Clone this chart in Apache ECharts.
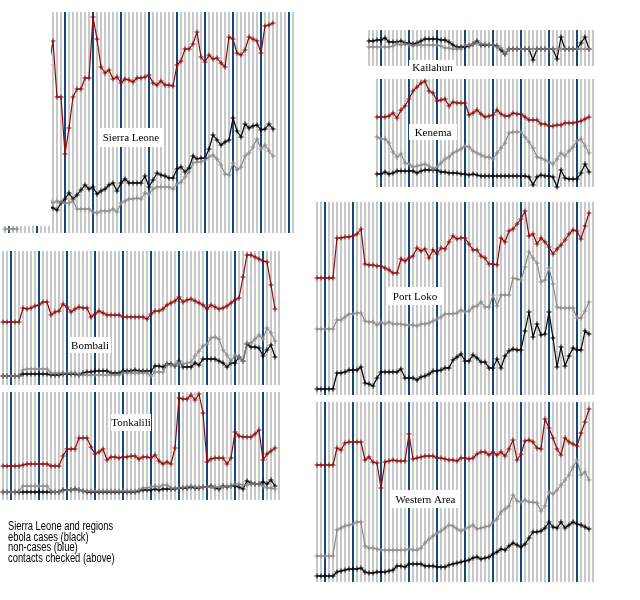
<!DOCTYPE html>
<html>
<head>
<meta charset="utf-8">
<script src="https://cdn.jsdelivr.net/npm/echarts@6/dist/echarts.min.js"></script>
<style>
  html, body { margin: 0; padding: 0; background: #fff; }
  #chart { width: 640px; height: 600px; }
</style>
</head>
<body>
<div id="chart"></div>
<script>
"use strict";

// one value per day; day 0 is the first column of the regional panels.

// --- Sierra Leone (from day 12, plus the early strip days 1-4) ---
const slStart = 12;
const slContacts = [168, 192, 136, 136, 79, 105, 136, 144, 144, 155, 155, 216, 194, 166, 160, 163, 154, 156, 150, 154, 153, 151, 155, 155, 156, 158, 150, 148, 152, 148, 148, 147, 168, 172, 184, 184, 189, 201, 176, 171, 178, 174, 175, 170, 166, 196, 194, 180, 178, 183, 196, 194, 192, 180, 207, 208, 210];
const slNonCases = [34, 30, 32, 31, 30, 30, 32, 24, 24, 24, 24, 21, 20, 22, 22, 22, 24, 21, 30, 32, 34, 34, 35, 34, 40, 39, 44, 46, 46, 46, 46, 44, 49, 51, 56, 61, 70, 71, 71, 73, 76, 78, 74, 68, 59, 58, 70, 63, 66, 77, 80, 86, 94, 84, 88, 82, 77];
const slCases = [26, 25, 23, 30, 34, 40, 34, 38, 43, 48, 44, 46, 39, 42, 44, 48, 50, 42, 50, 54, 50, 50, 50, 50, 57, 46, 53, 60, 58, 57, 55, 55, 64, 66, 61, 65, 77, 74, 75, 75, 84, 98, 93, 88, 91, 93, 115, 102, 96, 109, 105, 107, 108, 103, 104, 109, 104];
const slEarlyStart = 1;
const slEarlyNonCases = [4, 4, 4, 4];

// --- Kailahun (from day 13, no contacts line) ---
const kaStart = 13;
const kaNonCases = [19, 19, 19, 19, 19, 19, 20, 22, 21, 22, 21, 20, 21, 21, 21, 21, 21, 21, 20, 18, 18, 17, 17, 17, 21, 21, 22, 23, 22, 22, 21, 21, 19, 18, 13, 17, 17, 17, 17, 17, 17, 17, 17, 17, 17, 17, 17, 17, 17, 17, 17, 17, 17, 17, 17, 17];
const kaCases = [25, 25, 26, 26, 28, 24, 24, 24, 25, 23, 23, 22, 23, 25, 27, 27, 27, 27, 26, 26, 24, 21, 19, 19, 19, 20, 22, 25, 21, 21, 21, 21, 20, 16, 12, 17, 17, 17, 17, 17, 17, 6, 17, 17, 17, 17, 17, 7, 29, 17, 17, 17, 17, 23, 29, 17];

// --- Kenema (from day 15) ---
const keStart = 15;
const keContacts = [70, 70, 70, 71, 74, 69, 77, 81, 88, 96, 100, 104, 106, 96, 94, 86, 87, 88, 81, 85, 84, 84, 84, 72, 74, 77, 73, 70, 71, 72, 77, 73, 71, 71, 74, 73, 73, 70, 67, 67, 67, 63, 63, 61, 61, 62, 62, 64, 64, 64, 65, 66, 68, 70];
const keNonCases = [50, 48, 48, 44, 35, 30, 33, 24, 23, 20, 21, 22, 23, 21, 18, 20, 24, 28, 30, 34, 36, 38, 41, 40, 36, 34, 32, 30, 30, 28, 34, 39, 44, 54, 55, 55, 55, 50, 45, 39, 30, 29, 27, 25, 23, 28, 34, 31, 36, 40, 46, 48, 41, 34];
const keCases = [13, 13, 15, 13, 14, 16, 16, 16, 16, 16, 14, 16, 17, 17, 17, 17, 15, 15, 14, 14, 14, 13, 13, 12, 13, 12, 11, 11, 11, 11, 11, 11, 11, 11, 11, 11, 11, 11, 10, 2, 10, 12, 11, 11, 10, 0, 17, 9, 8, 8, 8, 14, 23, 15];

// --- Bombali (from day 0) ---
const boStart = 0;
const boContacts = [63, 63, 63, 63, 63, 77, 76, 77, 79, 80, 83, 83, 70, 73, 74, 81, 78, 73, 76, 78, 77, 77, 68, 71, 74, 72, 70, 70, 70, 70, 68, 68, 68, 68, 68, 68, 66, 71, 74, 74, 76, 80, 82, 84, 88, 83, 85, 86, 84, 82, 80, 76, 80, 78, 76, 77, 79, 82, 85, 87, 108, 130, 130, 128, 126, 124, 123, 100, 76];
const boNonCases = [9, 9, 9, 9, 9, 15, 16, 16, 16, 16, 16, 16, 12, 12, 12, 12, 12, 12, 12, 10, 10, 10, 10, 10, 10, 10, 10, 10, 10, 10, 12, 12, 12, 12, 12, 12, 12, 9, 13, 13, 13, 20, 20, 20, 22, 21, 22, 23, 29, 34, 39, 41, 47, 48, 46, 35, 30, 24, 30, 28, 24, 42, 42, 46, 50, 46, 57, 52, 44];
const boCases = [9, 9, 9, 9, 9, 11, 11, 11, 11, 11, 11, 11, 10, 10, 10, 11, 11, 11, 11, 10, 12, 13, 13, 14, 14, 14, 14, 12, 12, 12, 14, 14, 14, 15, 14, 14, 14, 14, 19, 19, 18, 21, 21, 19, 24, 18, 18, 18, 22, 20, 26, 26, 26, 26, 24, 22, 18, 22, 22, 28, 24, 41, 38, 38, 37, 29, 35, 40, 28];

// --- Tonkolili (from day 0) ---
const toStart = 0;
const toContacts = [34, 34, 34, 34, 34, 35, 36, 36, 36, 36, 36, 36, 34, 34, 34, 44, 51, 51, 51, 62, 62, 62, 53, 46, 48, 51, 40, 43, 43, 42, 43, 43, 44, 44, 41, 43, 43, 42, 45, 39, 36, 38, 36, 52, 102, 101, 101, 105, 100, 106, 87, 38, 41, 42, 42, 42, 36, 42, 68, 64, 63, 63, 63, 66, 70, 40, 46, 49, 52];
const toNonCases = [8, 8, 8, 8, 9, 14, 14, 14, 14, 14, 14, 14, 9, 8, 8, 9, 10, 10, 10, 10, 9, 9, 9, 9, 9, 9, 9, 9, 9, 9, 9, 9, 9, 9, 10, 12, 12, 13, 14, 13, 15, 15, 12, 12, 12, 13, 13, 14, 13, 13, 13, 13, 13, 13, 13, 13, 14, 14, 16, 16, 15, 15, 16, 16, 16, 14, 12, 12, 11];
const toCases = [8, 8, 8, 8, 8, 8, 8, 8, 8, 8, 8, 8, 8, 8, 8, 10, 10, 10, 11, 10, 9, 8, 8, 8, 8, 8, 8, 8, 8, 8, 8, 8, 8, 8, 9, 10, 10, 10, 11, 10, 11, 11, 11, 11, 12, 12, 12, 13, 12, 12, 13, 13, 14, 12, 11, 14, 13, 14, 14, 13, 11, 19, 17, 16, 16, 18, 16, 20, 14];

// --- Port Loko (from day 0) ---
const plStart = 0;
const plContacts = [117, 117, 117, 117, 117, 157, 157, 158, 158, 159, 161, 166, 131, 130, 130, 129, 129, 127, 125, 122, 122, 136, 134, 137, 139, 147, 144, 146, 137, 145, 141, 147, 146, 153, 159, 156, 157, 157, 151, 145, 145, 139, 137, 131, 131, 130, 157, 153, 164, 166, 171, 176, 184, 159, 161, 151, 157, 153, 148, 141, 146, 150, 155, 161, 165, 164, 156, 169, 182];
const plNonCases = [66, 66, 66, 66, 66, 75, 75, 78, 81, 81, 82, 82, 74, 73, 73, 70, 73, 71, 73, 71, 71, 71, 70, 70, 70, 69, 71, 71, 72, 74, 76, 78, 81, 81, 81, 82, 85, 83, 84, 88, 89, 93, 88, 88, 100, 89, 100, 100, 100, 117, 116, 115, 128, 143, 137, 132, 113, 115, 127, 111, 88, 87, 87, 87, 87, 77, 77, 84, 93];
const plCases = [6, 6, 6, 6, 6, 22, 22, 23, 25, 25, 25, 28, 12, 11, 9, 17, 23, 23, 23, 23, 23, 26, 17, 17, 17, 15, 18, 19, 21, 24, 24, 25, 27, 27, 35, 38, 41, 34, 34, 40, 37, 33, 33, 27, 27, 36, 27, 39, 44, 46, 45, 45, 64, 83, 58, 71, 60, 61, 83, 57, 28, 48, 29, 39, 47, 45, 45, 64, 61];

// --- Western Area (from day 0) ---
const waStart = 0;
const waContacts = [117, 117, 117, 117, 117, 134, 132, 139, 140, 140, 140, 140, 122, 125, 120, 119, 94, 120, 121, 122, 121, 121, 121, 148, 123, 124, 125, 126, 126, 126, 124, 124, 123, 122, 122, 121, 124, 124, 123, 124, 128, 130, 130, 127, 130, 127, 130, 126, 133, 142, 122, 128, 141, 142, 140, 134, 133, 163, 154, 144, 133, 127, 144, 140, 138, 136, 149, 160, 173];
const waNonCases = [26, 26, 26, 26, 26, 52, 54, 56, 57, 58, 60, 60, 36, 34, 34, 33, 32, 32, 32, 32, 32, 32, 32, 33, 32, 32, 34, 39, 43, 46, 49, 51, 54, 57, 56, 53, 51, 53, 55, 57, 53, 54, 55, 56, 60, 63, 70, 73, 76, 87, 81, 80, 82, 80, 80, 79, 71, 76, 90, 88, 92, 97, 102, 107, 115, 122, 107, 110, 102];
const waCases = [6, 6, 6, 6, 6, 10, 11, 12, 13, 13, 13, 14, 10, 9, 9, 10, 10, 10, 11, 12, 16, 16, 15, 18, 18, 18, 18, 16, 16, 16, 15, 15, 15, 17, 18, 19, 20, 21, 22, 24, 25, 23, 24, 25, 28, 30, 33, 32, 36, 39, 37, 35, 38, 44, 50, 50, 51, 54, 60, 55, 54, 60, 54, 57, 60, 58, 57, 55, 53];

const noteLines = [
  "Sierra Leone and regions",
  "ebola cases (black)",
  "non-cases (blue)",
  "contacts checked (above)",
];

// ---------------------------------------------------------------------------

const RED = "#8e0a0a";
const GREY = "#8a8a8a";
const BLACK = "#000000";
const DAY_LINE = "#c8c8c8";
const WEEK_LINE = "#12487f";
const PLUS = "path://M2,0H3V2H5V3H3V5H2V3H0V2H2Z";

// 4 px per day; weeks fall on day 2, 9, 16, ...
const panels = [
  { name: "Sierra Leone", from: 1, to: 73, left: 5, top: 12, height: 221,
    start: slStart, contacts: slContacts, nonCases: slNonCases, cases: slCases,
    box: [99, 128, 64, 19] },
  { name: "Kailahun", from: 13, to: 69, left: 369, top: 30, height: 36,
    start: kaStart, contacts: null, nonCases: kaNonCases, cases: kaCases,
    box: [409, 60, 47, 15] },
  { name: "Kenema", from: 15, to: 69, left: 377, top: 79, height: 108,
    start: keStart, contacts: keContacts, nonCases: keNonCases, cases: keCases,
    box: [409, 124, 48, 16] },
  { name: "Bombali", from: 0, to: 69, left: 3, top: 251, height: 134,
    start: boStart, contacts: boContacts, nonCases: boNonCases, cases: boCases,
    box: [69, 337, 42, 16] },
  { name: "Tonkalili", from: 0, to: 69, left: 3, top: 392, height: 108,
    start: toStart, contacts: toContacts, nonCases: toNonCases, cases: toCases,
    box: [111, 414, 40, 17] },
  { name: "Port Loko", from: 0, to: 69, left: 317, top: 202, height: 193,
    start: plStart, contacts: plContacts, nonCases: plNonCases, cases: plCases,
    box: [387, 287, 56, 18] },
  { name: "Western Area", from: 0, to: 69, left: 317, top: 402, height: 180,
    start: waStart, contacts: waContacts, nonCases: waNonCases, cases: waCases,
    box: [391, 490, 69, 18] },
];

/** @param {number} start @param {number[]} vals */
const toPairs = (start, vals) => vals.map((v, i) => [start + i, v]);

/** @param {number} from */
const dayColors = (from) => {
  const c = [DAY_LINE, DAY_LINE, DAY_LINE, DAY_LINE, DAY_LINE, DAY_LINE, DAY_LINE];
  c[(((2 - from) % 7) + 7) % 7] = WEEK_LINE;
  return c;
};

const lineSeries = (idx, start, vals, color) => ({
  type: "line",
  xAxisIndex: idx,
  yAxisIndex: idx,
  data: toPairs(start, vals),
  symbol: PLUS,
  symbolSize: 5,
  showAllSymbol: true,
  lineStyle: { color, width: 1.2 },
  itemStyle: { color },
  silent: true,
  animation: false,
});

const grid = [];
const xAxis = [];
const yAxis = [];
const series = [];
const graphic = [];

panels.forEach((p, i) => {
  grid.push({ left: p.left, top: p.top, width: (p.to - p.from) * 4, height: p.height });
  xAxis.push({
    type: "value", gridIndex: i, min: p.from, max: p.to, interval: 1,
    axisLine: { show: false }, axisTick: { show: false }, axisLabel: { show: false },
    splitLine: { show: true, lineStyle: { color: dayColors(p.from), width: 2 } },
  });
  yAxis.push({ type: "value", gridIndex: i, min: 0, max: p.height, show: false });

  series.push(lineSeries(i, p.start, p.cases, BLACK));
  series.push(lineSeries(i, p.start, p.nonCases, GREY));
  if (p.contacts) series.push(lineSeries(i, p.start, p.contacts, RED));

  const [bx, by, bw, bh] = p.box;
  graphic.push({ type: "rect", z: 100, shape: { x: bx, y: by, width: bw, height: bh }, style: { fill: "#fff" } });
  graphic.push({
    type: "text", z: 101,
    style: {
      text: p.name, x: bx + bw / 2, y: by + bh / 2 + 1, align: "center", verticalAlign: "middle",
      font: '11px "Liberation Serif", serif', fill: "#000",
    },
  });
});

// early strip under the Sierra Leone panel
series.push(lineSeries(0, slEarlyStart, slEarlyNonCases, GREY));

// blank area left of the national panel
graphic.push({ type: "rect", z: 90, shape: { x: 0, y: 0, width: 51, height: 226 }, style: { fill: "#fff" } });

noteLines.forEach((t, i) => {
  graphic.push({
    type: "text", z: 101,
    x: 8, y: 526.5 + i * 10.8, scaleX: 0.78,
    style: {
      text: t, x: 0, y: 0, verticalAlign: "middle",
      font: '12px "Liberation Sans", Arial, sans-serif', fill: "#000",
    },
  });
});

const chart = echarts.init(document.getElementById("chart"));
chart.setOption({
  backgroundColor: "#fff",
  animation: false,
  grid,
  xAxis,
  yAxis,
  series,
  graphic,
});
</script>
</body>
</html>
